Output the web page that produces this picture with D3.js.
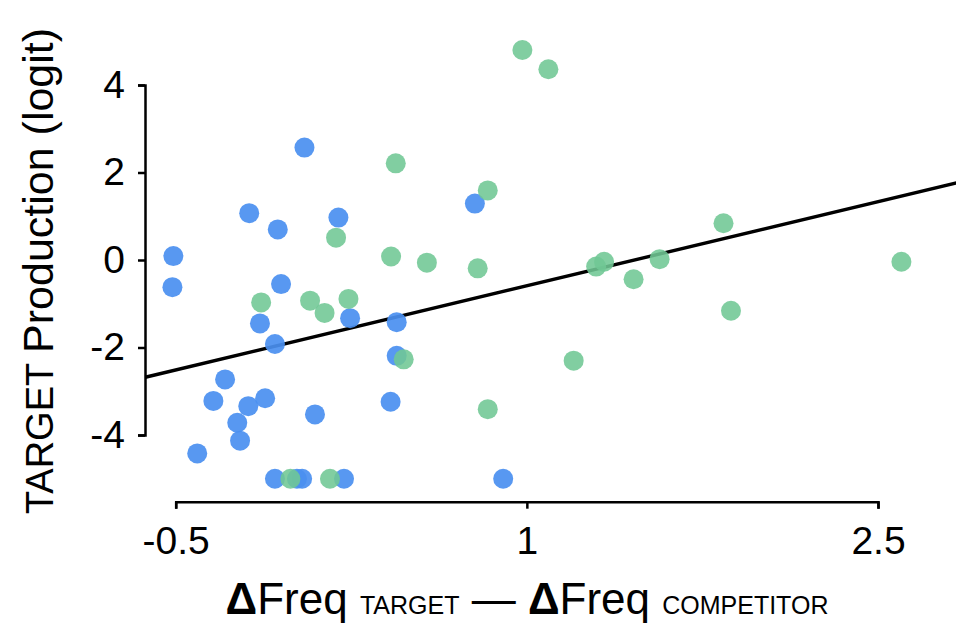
<!DOCTYPE html>
<html>
<head>
<meta charset="utf-8">
<script src="https://cdnjs.cloudflare.com/ajax/libs/d3/7.8.5/d3.min.js"></script>
<style>
  body { margin: 0; background: #fff; }
  text { font-family: "Liberation Sans", Arial, Helvetica, sans-serif; fill: #000; }
</style>
</head>
<body>
<div class="scatter"></div>
<script>
let FRAME_WIDTH = 956;
let FRAME_HEIGHT = 623;

// points (x = dFreq target - dFreq competitor, y = logit)
let BLUE_X = [-0.51, -0.514, -0.186, -0.064, 0.05, 0.195, -0.05, -0.14, 0.245, -0.076,
              0.444, 0.444, -0.289, -0.339, -0.19, -0.118, -0.237, -0.225, -0.408, 0.095,
              0.418, 0.778, 0.899, -0.076, 0.018, 0.04, 0.219];
let BLUE_Y = [0.09, -0.62, 1.07, 0.70, 2.57, 0.97, -0.55, -1.45, -1.33, -1.92,
              -1.42, -2.19, -2.73, -3.22, -3.34, -3.16, -3.72, -4.13, -4.42, -3.53,
              -3.24, 1.29, -5.0, -5.0, -5.0, -5.0, -5.0];

let GREEN_X = [0.981, 1.092, 0.44, 0.833, 0.185, 0.42, 0.573, 0.79, 1.296, 1.33,
               1.456, 1.567, 1.84, 2.6, 1.872, 1.20, 0.833, 0.474, -0.135, 0.074,
               0.238, 0.136, -0.01, 0.159];
let GREEN_Y = [4.80, 4.36, 2.21, 1.59, 0.51, 0.08, -0.06, -0.19, -0.15, -0.04,
               -0.44, 0.02, 0.84, -0.04, -1.16, -2.30, -3.41, -2.27, -0.97, -0.93,
               -0.89, -1.21, -5.0, -5.0];

// fitted line end points
let FIT_X = [-0.63, 2.84];
let FIT_Y = [-2.68, 1.77];

let X_TICKS = [-0.5, 1, 2.5];
let Y_TICKS = [-4, -2, 0, 2, 4];

let BLUE = "#4a8ff0";
let GREEN = "#70c794";

let SCATTER_FRAME = d3.select(".scatter")
                    .append("svg")
                    .attr("width", FRAME_WIDTH)
                    .attr("height", FRAME_HEIGHT);

const X_SCALE = d3.scaleLinear()
                  .domain([-0.5, 2.5])
                  .range([175.7, 878]);

const Y_SCALE = d3.scaleLinear()
                  .domain([-4, 4])
                  .range([435, 85]);

// fit line
SCATTER_FRAME.append("line")
    .attr("x1", X_SCALE(FIT_X[0]))
    .attr("y1", Y_SCALE(FIT_Y[0]))
    .attr("x2", X_SCALE(FIT_X[1]))
    .attr("y2", Y_SCALE(FIT_Y[1]))
    .attr("stroke", "#000")
    .attr("stroke-width", 3.4);

// points
let blueData = BLUE_X.map((x, i) => ({x: x, y: BLUE_Y[i]}));
let greenData = GREEN_X.map((x, i) => ({x: x, y: GREEN_Y[i]}));

SCATTER_FRAME.append("g").selectAll("circle")
    .data(blueData)
    .enter()
    .append("circle")
        .attr("cx", (d) => X_SCALE(d.x))
        .attr("cy", (d) => Y_SCALE(d.y))
        .attr("r", 10)
        .attr("fill", BLUE)
        .attr("opacity", 0.92);

SCATTER_FRAME.append("g").selectAll("circle")
    .data(greenData)
    .enter()
    .append("circle")
        .attr("cx", (d) => X_SCALE(d.x))
        .attr("cy", (d) => Y_SCALE(d.y))
        .attr("r", 10)
        .attr("fill", GREEN)
        .attr("opacity", 0.88);

// axes
let xAxis = SCATTER_FRAME.append("g")
    .attr("transform", "translate(0,501.7)")
    .call(d3.axisBottom(X_SCALE).tickValues(X_TICKS).tickSize(7).tickSizeOuter(7)
          .tickFormat((d) => String(d)));

let yAxis = SCATTER_FRAME.append("g")
    .attr("transform", "translate(145,0)")
    .call(d3.axisLeft(Y_SCALE).tickValues(Y_TICKS).tickSize(7).tickSizeOuter(7)
          .tickFormat((d) => String(d)));

[xAxis, yAxis].forEach((g) => {
    g.select(".domain").attr("stroke-width", 2.5);
    g.selectAll(".tick line").attr("stroke-width", 2.5);
    g.selectAll(".tick text").attr("font-size", "39px")
        .attr("font-family", "Liberation Sans, Arial, sans-serif").attr("fill", "#000");
});
xAxis.selectAll(".tick text").attr("y", 25);
yAxis.selectAll(".tick text").attr("x", -20);

// y label
let yLab = SCATTER_FRAME.append("text")
    .attr("transform", "translate(53,271) rotate(-90)")
    .attr("text-anchor", "middle");
yLab.append("tspan").attr("font-size", "38px").text("TARGET ");
yLab.append("tspan").attr("font-size", "43px").text("Production (logit)");

// x label
let xLab = SCATTER_FRAME.append("text")
    .attr("x", 527)
    .attr("y", 614)
    .attr("text-anchor", "middle");
xLab.append("tspan").attr("font-size", "44px").attr("font-weight", "bold").text("\u0394");
xLab.append("tspan").attr("font-size", "44px").text("Freq ");
xLab.append("tspan").attr("font-size", "25px").text("TARGET");
xLab.append("tspan").attr("font-size", "44px").text(" \u2014 ");
xLab.append("tspan").attr("font-size", "44px").attr("font-weight", "bold").text("\u0394");
xLab.append("tspan").attr("font-size", "44px").text("Freq ");
xLab.append("tspan").attr("font-size", "25px").text("COMPETITOR");
</script>
</body>
</html>
